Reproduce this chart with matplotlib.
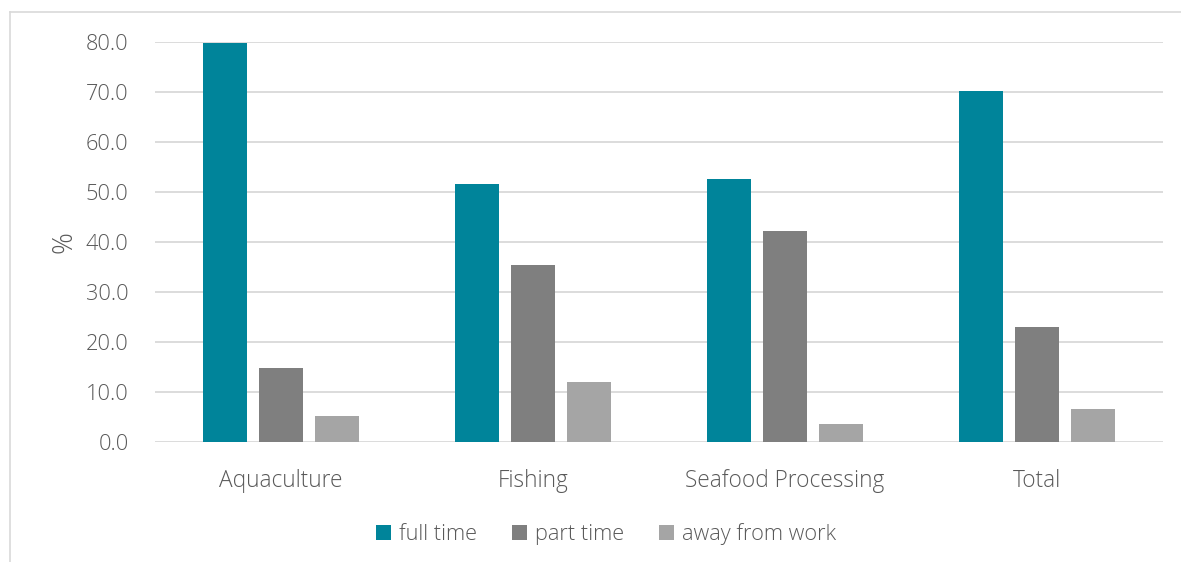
import matplotlib
matplotlib.use("Agg")
import matplotlib.pyplot as plt
from matplotlib.lines import Line2D
import numpy as np

categories = ["Aquaculture", "Fishing", "Seafood Processing", "Total"]
series_names = ["full time", "part time", "away from work"]
full_time = [79.8, 51.6, 52.6, 70.2]
part_time = [14.9, 35.4, 42.3, 23.0]
away_from_work = [5.2, 12.1, 3.6, 6.6]
colors = ["#00849A", "#7F7F7F", "#A5A5A5"]
yticks = [0, 10, 20, 30, 40, 50, 60, 70, 80]

plt.rcParams['font.family'] = ['Open Sans', 'DejaVu Sans']
plt.rcParams['font.weight'] = 300
plt.rcParams['axes.labelweight'] = 300
text_color = "#595959"
fs = 15.7

fig = plt.figure(figsize=(11.81, 5.62), dpi=100)
ax = fig.add_axes([155/1181, 1-442/562, (1163-155)/1181, 400/562])

x = np.arange(len(categories))
w = 44/252
step = 56/252
for i, (vals, name) in enumerate(zip([full_time, part_time, away_from_work], series_names)):
    ax.bar(x + (i-1)*step, vals, width=w, color=colors[i], label=name, zorder=3)

ax.set_xlim(-0.5, len(categories)-0.5)
ax.set_ylim(0, 80)
ax.set_yticks(yticks)
ax.set_yticklabels([f"{v:.1f}" for v in yticks])
ax.set_xticks(x)
ax.set_xticklabels(categories)
ax.tick_params(axis='y', length=0, pad=19, labelsize=fs, labelcolor=text_color)
ax.tick_params(axis='x', length=0, pad=19.5, labelsize=16.3, labelcolor=text_color)
ax.grid(axis='y', color="#D9D9D9", linewidth=1.3, zorder=0)
for s in ax.spines.values():
    s.set_visible(False)
ax.set_ylabel("%", fontsize=19.5, color=text_color, labelpad=5, fontweight=300)

leg = ax.legend(loc='center', bbox_to_anchor=(606/1181, 1-534/562), bbox_transform=fig.transFigure,
                ncol=3, frameon=False, fontsize=fs, handlelength=0.7, handleheight=0.7,
                handletextpad=0.35, columnspacing=1.6)
for t in leg.get_texts():
    t.set_color(text_color)

fig.add_artist(Line2D([10/1181, 10/1181], [0, 1-12/562], transform=fig.transFigure, color="#D9D9D9", linewidth=1.2))
fig.add_artist(Line2D([10/1181, 1], [1-12/562, 1-12/562], transform=fig.transFigure, color="#D9D9D9", linewidth=1.2))

fig.savefig("out.png", dpi=100)
